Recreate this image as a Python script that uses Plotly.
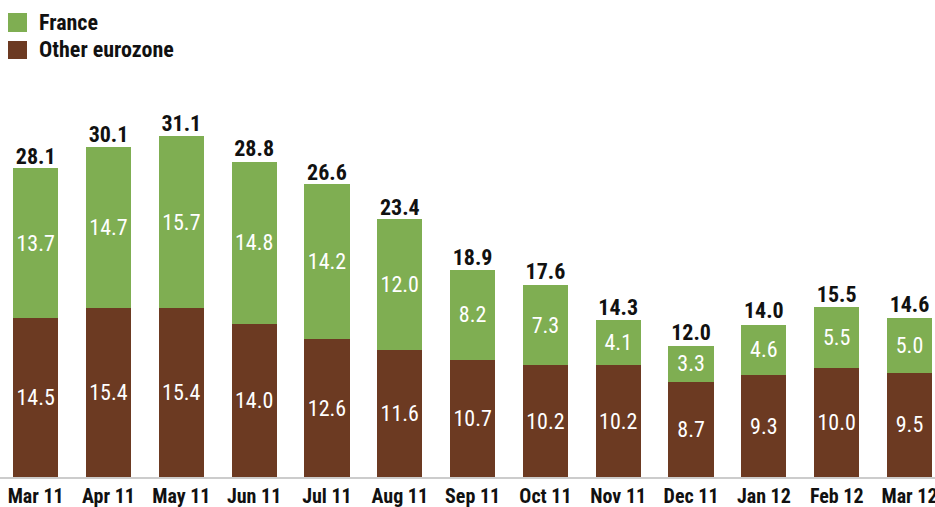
import plotly.graph_objects as go

months = ["Mar 11", "Apr 11", "May 11", "Jun 11", "Jul 11", "Aug 11", "Sep 11",
          "Oct 11", "Nov 11", "Dec 11", "Jan 12", "Feb 12", "Mar 12"]
other_eurozone = [14.5, 15.4, 15.4, 14.0, 12.6, 11.6, 10.7, 10.2, 10.2, 8.7, 9.3, 10.0, 9.5]
france = [13.7, 14.7, 15.7, 14.8, 14.2, 12.0, 8.2, 7.3, 4.1, 3.3, 4.6, 5.5, 5.0]
totals = [28.1, 30.1, 31.1, 28.8, 26.6, 23.4, 18.9, 17.6, 14.3, 12.0, 14.0, 15.5, 14.6]

GREEN = "#7fae52"
BROWN = "#6c3a22"
FONT = "Roboto Condensed, DejaVu Sans Condensed, sans-serif"

W, H = 935, 507
T, B = 60, 30

fig = go.Figure()
fig.add_trace(go.Bar(
    x=months, y=other_eurozone, name="Other eurozone", marker_color=BROWN,
    marker_line_width=0,
    text=[f"{v:.1f}" for v in other_eurozone], textposition="inside",
    insidetextanchor="middle", textangle=0,
    textfont=dict(color="white", size=22, family=FONT),
))
fig.add_trace(go.Bar(
    x=months, y=france, name="France", marker_color=GREEN,
    marker_line_width=0,
    text=[f"{v:.1f}" for v in france], textposition="inside",
    insidetextanchor="middle", textangle=0,
    textfont=dict(color="white", size=22, family=FONT),
))
fig.add_trace(go.Scatter(
    x=months, y=totals, mode="text", showlegend=False,
    text=[f"<b>{v:.1f}</b>" for v in totals], textposition="top center",
    textfont=dict(color="#111111", size=22, family=FONT),
    cliponaxis=False, hoverinfo="skip",
))

plot_h = H - T - B
def py(p):
    return (H - B - p) / plot_h

legend_items = [("France", GREEN, 13, 32), ("Other eurozone", BROWN, 41, 59)]
shapes = []
annotations = []
for name, col, top, bot in legend_items:
    shapes.append(dict(type="rect", xref="paper", yref="paper",
                       x0=8 / W, x1=27 / W, y0=py(bot), y1=py(top),
                       fillcolor=col, line_width=0))
    annotations.append(dict(xref="paper", yref="paper", x=37 / W, y=py((top + bot) / 2),
                            text=f"<b>{name}</b>", showarrow=False, xanchor="left",
                            yanchor="middle",
                            font=dict(size=22, color="#111111", family=FONT)))

fig.update_layout(
    barmode="stack", bargap=0.38,
    width=W, height=H,
    margin=dict(l=0, r=0, t=T, b=B),
    paper_bgcolor="white", plot_bgcolor="white",
    showlegend=False,
    shapes=shapes, annotations=annotations,
    font=dict(family=FONT),
)
fig.update_xaxes(
    range=[-0.49, 12.35], showgrid=False, showline=True, linecolor="#cccccc",
    linewidth=2, ticks="", automargin=False,
    tickfont=dict(size=20, color="#111111", family=FONT),
    tickprefix="<b>", ticksuffix="</b>",
)
fig.update_yaxes(range=[0, plot_h / 10.95], visible=False, showgrid=False)

fig.write_html("out.html", config={"displayModeBar": False},
               post_script="document.body.style.margin='0';")
